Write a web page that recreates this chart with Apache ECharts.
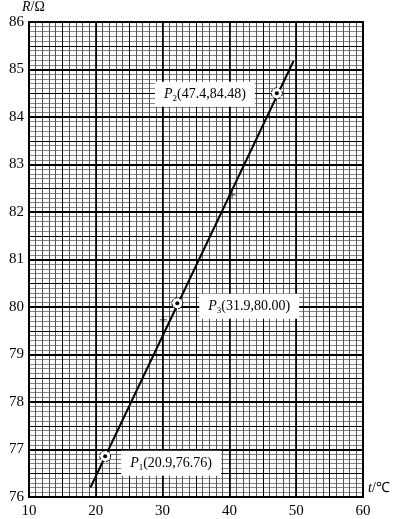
<!DOCTYPE html>
<html>
<head>
<meta charset="utf-8">
<style>html,body{margin:0;padding:0;background:#fff;}#c{width:396px;height:519px;}</style>
<script src="https://cdn.jsdelivr.net/npm/echarts@6/dist/echarts.min.js"></script>
</head>
<body>
<div id="c"></div>
<script>
// ---- data ----
const xMin = 10, xMax = 60;
const yMin = 76, yMax = 86;
const fitLineT = [19.2, 49.6];
const fitLineR = [76.2, 85.18];
const pointNames = ['1', '2', '3'];
// positions of the circled points as drawn in the picture
const pointT = [21.4, 47.1, 32.2];
const pointR = [76.86, 84.50, 80.08];
// values written in the point labels
const labelT = ['20.9', '47.4', '31.9'];
const labelR = ['76.76', '84.48', '80.00'];
const crossT = [30.1, 40.4];
const crossR = [79.73, 82.36];

const FONT = 'Liberation Serif';
const chart = echarts.init(document.getElementById('c'), null, {renderer: 'canvas'});

function hiddenAxis(extra) {
  return Object.assign({
    type: 'value',
    axisLine: {show: false},
    axisTick: {show: false},
    axisLabel: {show: false},
    splitLine: {show: true}
  }, extra);
}

const xAxes = [
  hiddenAxis({min: xMin, max: xMax, interval: 1, position: 'top', z: 0,
    splitLine: {show: true, lineStyle: {color: '#555', width: 1}}}),
  hiddenAxis({min: xMin, max: xMax, interval: 5, position: 'top', offset: 20, z: 1,
    splitLine: {show: true, lineStyle: {color: '#000', width: 1}}}),
  {
    type: 'value', min: xMin, max: xMax, interval: 10, position: 'bottom', z: 2,
    axisLine: {show: false}, axisTick: {show: false},
    axisLabel: {color: '#000', fontFamily: FONT, fontSize: 15, margin: 7},
    splitLine: {show: true, lineStyle: {color: '#000', width: 1.6}},
    name: '{i|t}/℃', nameLocation: 'end', nameGap: 5,
    nameTextStyle: {color: '#000', fontFamily: FONT, fontSize: 14, verticalAlign: 'bottom', padding: [0, 0, 2, 0],
      rich: {i: {fontStyle: 'italic', fontFamily: FONT, fontSize: 14, color: '#000'}}}
  }
];

const yAxes = [
  hiddenAxis({min: yMin, max: yMax, interval: 0.1, position: 'right', z: 0,
    splitLine: {show: true, lineStyle: {color: '#858585', width: 1}}}),
  hiddenAxis({min: yMin, max: yMax, interval: 0.5, position: 'right', offset: 20, z: 1,
    splitLine: {show: true, lineStyle: {color: '#000', width: 1}}}),
  {
    type: 'value', min: yMin, max: yMax, interval: 1, position: 'left', z: 2,
    axisLine: {show: false}, axisTick: {show: false},
    axisLabel: {color: '#000', fontFamily: FONT, fontSize: 15, margin: 5},
    splitLine: {show: true, lineStyle: {color: '#000', width: 2}},
    name: '{i|R}/Ω', nameLocation: 'end', nameGap: 0,
    nameTextStyle: {color: '#000', fontFamily: FONT, fontSize: 14, align: 'left', verticalAlign: 'bottom', padding: [0, 0, 0, -7],
      rich: {i: {fontStyle: 'italic', fontFamily: FONT, fontSize: 14, color: '#000'}}}
  }
];

const labelPos = {'1': {position: 'right', distance: 14, offset: [0, 7]},
                  '2': {position: 'left', distance: 20, offset: [0, 1]},
                  '3': {position: 'right', distance: 20, offset: [0, 3]}};

const richStyle = {
  p: {fontFamily: FONT, fontStyle: 'italic', fontSize: 14, color: '#000'},
  s: {fontFamily: FONT, fontSize: 9, color: '#000', padding: [8, 0, 0, 0]},
  n: {fontFamily: FONT, fontSize: 14, color: '#000'}
};

chart.setOption({
  animation: false,
  backgroundColor: '#fff',
  grid: {left: 29, right: 33, top: 22, bottom: 22, show: true, z: 3, borderColor: '#000', borderWidth: 2, backgroundColor: 'transparent'},
  xAxis: xAxes,
  yAxis: yAxes,
  series: [
    {
      type: 'line', xAxisIndex: 2, yAxisIndex: 2,
      data: fitLineT.map((t, i) => [t, fitLineR[i]]),
      symbol: 'none', lineStyle: {color: '#000', width: 2}, z: 3
    },
    {
      type: 'scatter', xAxisIndex: 2, yAxisIndex: 2,
      data: crossT.map((t, i) => [t, crossR[i]]),
      symbol: 'path://M0,5 L10,5 M5,0 L5,10', symbolSize: 7,
      itemStyle: {color: 'none', borderColor: '#000', borderWidth: 1}, z: 4
    },
    {
      type: 'scatter', xAxisIndex: 2, yAxisIndex: 2,
      data: pointT.map((t, i) => [t, pointR[i]]),
      symbol: 'circle', symbolSize: 11,
      itemStyle: {color: '#fff', opacity: 1, borderColor: '#000', borderWidth: 1, borderType: [3, 1.5]}, z: 4
    },
    {
      type: 'scatter', xAxisIndex: 2, yAxisIndex: 2,
      data: pointT.map((t, i) => ({
        name: pointNames[i], value: [t, pointR[i]],
        label: Object.assign({
          show: true,
          formatter: '{p|P}{s|' + pointNames[i] + '}{n|(' + labelT[i] + ',' + labelR[i] + ')}',
          backgroundColor: '#fff', padding: [4, 9, 4, 9], rich: richStyle
        }, labelPos[pointNames[i]])
      })),
      symbol: 'circle', symbolSize: 4,
      itemStyle: {color: '#000', opacity: 1}, z: 5
    }
  ]
});
</script>
</body>
</html>
